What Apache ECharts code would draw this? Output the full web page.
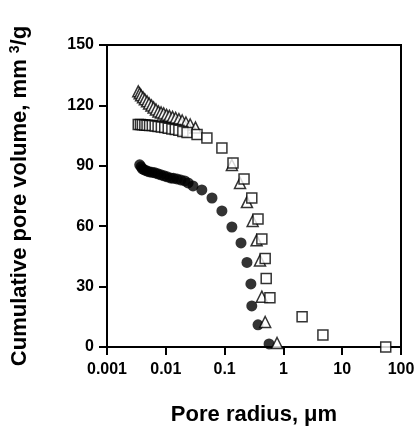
<!DOCTYPE html>
<html>
<head>
<meta charset="utf-8">
<script src="https://cdn.jsdelivr.net/npm/echarts@6/dist/echarts.min.js"></script>
<style>html,body{margin:0;padding:0;background:#fff}#c{width:414px;height:426px}</style>
</head>
<body>
<div id="c"></div>
<script>
var xTickLabels = ['0.001','0.01','0.1','1','10','100'];
var yTickLabels = [0,30,60,90,120,150];

var circleX = [0.0036,0.0038,0.0040,0.0043,0.0047,0.0052,0.0058,0.0065,0.0073,0.0082,0.0093,0.0105,0.012,0.0135,0.0155,0.018,0.021,0.024,0.029,0.041,0.061,0.09,0.133,0.19,0.24,0.28,0.29,0.37,0.57];
var circleY = [90.5,89.5,88.5,88,87.5,87,86.8,86.5,86,85.5,85,84.5,84,83.8,83.5,83,82.5,81.5,80,78,74,67.6,59.6,51.7,42,31.3,20.4,11,1.5];

var squareX = [0.0034,0.0037,0.0040,0.0044,0.0048,0.0053,0.0059,0.0066,0.0074,0.0084,0.0096,0.011,0.0127,0.0145,0.0167,0.0195,0.023,0.034,0.05,0.09,0.139,0.214,0.29,0.37,0.43,0.49,0.51,0.59,2.08,4.7,55];
var squareY = [110.5,110.5,110.4,110.3,110.2,110,110,109.8,109.5,109.3,109,108.7,108.3,108,107.6,107,106.5,105.5,103.8,98.9,91.4,83.5,74,63.6,53.6,44,34,24.5,15,6,0];

var triX = [0.0034,0.0036,0.0038,0.0041,0.0044,0.0048,0.0052,0.0057,0.0062,0.0068,0.0075,0.0083,0.0092,0.0103,0.0115,0.013,0.0147,0.0167,0.019,0.022,0.026,0.032,0.133,0.183,0.24,0.30,0.35,0.40,0.43,0.49,0.78];
var triY = [127,126,125,124,123,122,121,120,119,118,117,116.5,116,115.3,114.8,114.3,113.8,113.2,112.5,111.5,110.5,109,90.4,81.5,72,62.6,53,43,25,12.4,2];

function zip(a,b){return a.map(function(v,i){return [v,b[i]];});}

var font = '"Liberation Sans", Arial, Helvetica, sans-serif';
var chart = echarts.init(document.getElementById('c'));
chart.setOption({
  animation:false,
  backgroundColor:'#fff',
  grid:{left:107,right:13,top:45,bottom:79,containLabel:false,outerBoundsMode:'none',show:true,borderColor:'#000',borderWidth:2,backgroundColor:'transparent'},
  xAxis:{
    type:'log',logBase:10,min:0.001,max:100,
    name:'Pore radius, \u03bcm',nameLocation:'middle',nameGap:57,
    nameTextStyle:{fontFamily:font,fontWeight:'bold',fontSize:22,color:'#000'},
    axisLine:{lineStyle:{color:'#000',width:2}},
    axisTick:{show:true,inside:false,length:8,lineStyle:{color:'#000',width:2}},
    minorTick:{show:false},
    splitLine:{show:false},
    axisLabel:{fontFamily:font,fontWeight:'bold',fontSize:16,color:'#000',margin:15,hideOverlap:false,
      formatter:function(v){var e=Math.round(Math.log10(v))+3;return xTickLabels[e]!==undefined?xTickLabels[e]:'';}}
  },
  yAxis:{
    type:'value',min:0,max:150,interval:30,
    name:'{a|Cumulative pore volume, mm }{s|3}{a|/g}',nameLocation:'middle',nameGap:75,
    nameTextStyle:{fontFamily:font,fontWeight:'bold',fontSize:22,color:'#000',
      rich:{a:{fontFamily:font,fontWeight:'bold',fontSize:22,color:'#000'},
            s:{fontFamily:font,fontWeight:'bold',fontSize:14,color:'#000',verticalAlign:'top',padding:[0,0,10,0]}}},
    axisLine:{show:true,lineStyle:{color:'#000',width:2}},
    axisTick:{show:true,inside:false,length:8,lineStyle:{color:'#000',width:2}},
    splitLine:{show:false},
    axisLabel:{fontFamily:font,fontWeight:'bold',fontSize:16,color:'#000',margin:13,
      formatter:function(v){return yTickLabels.indexOf(v)>=0?String(v):'';}}
  },
  series:[
    {type:'scatter',name:'circles',data:zip(circleX,circleY),symbol:'circle',symbolSize:11,clip:false,
     itemStyle:{color:'#000',borderColor:'#000',borderWidth:0}},
    {type:'scatter',name:'triangles',data:zip(triX,triY),symbol:'triangle',symbolSize:[11,11],clip:false,
     itemStyle:{color:'#fff',borderColor:'#000',borderWidth:1.5}},
    {type:'scatter',name:'squares',data:zip(squareX,squareY),symbol:'rect',symbolSize:10,clip:false,
     itemStyle:{color:'#fff',borderColor:'#000',borderWidth:1.5}}
  ]
});
</script>
</body>
</html>
